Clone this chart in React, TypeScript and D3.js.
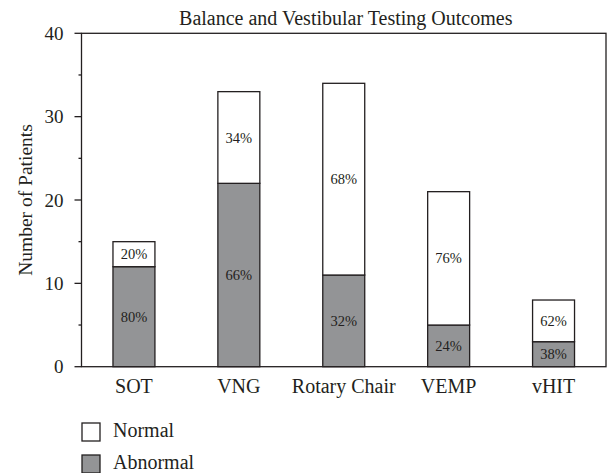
import React from 'react';
import * as d3 from 'd3';

const categories = ['SOT', 'VNG', 'Rotary Chair', 'VEMP', 'vHIT'];
const abnormal = [12, 22, 11, 5, 3];
const normal = [3, 11, 23, 16, 5];
const abnormalPct = ['80%', '66%', '32%', '24%', '38%'];
const normalPct = ['20%', '34%', '68%', '76%', '62%'];
const yTicks = [0, 10, 20, 30, 40];
const yMinorTicks = [5, 15, 25, 35];

const W = 611;
const H = 473;
const left = 81.5;
const right = 606;
const top = 33.3;
const bottom = 366.7;
const font = "'Liberation Serif', 'Times New Roman', serif";
const grey = '#939496';
const ink = '#231f20';

export default function App() {
  const x = d3.scaleBand<string>().domain(categories).range([left, right]).paddingInner(0.6).paddingOuter(0.3);
  const y = d3.scaleLinear().domain([0, 40]).range([bottom, top]);
  const bw = x.bandwidth();

  return (
    <svg width={W} height={H} style={{ position: 'absolute', left: 0, top: 0 }} fontFamily={font}>
      <text x={(left + right) / 2 + 2} y={25} textAnchor="middle" fontSize={20} fill={ink}>
        Balance and Vestibular Testing Outcomes
      </text>

      {/* frame */}
      <rect x={left} y={top} width={right - left} height={bottom - top} fill="none" stroke={ink} strokeWidth={1.3} />

      {/* y axis ticks */}
      {yTicks.map(t => (
        <g key={t}>
          <line x1={left - 7} x2={left} y1={y(t)} y2={y(t)} stroke={ink} strokeWidth={1.3} />
          <text x={left - 18} y={y(t)} dy="0.35em" textAnchor="end" fontSize={19} fill={ink}>{t}</text>
        </g>
      ))}
      {yMinorTicks.map(t => (
        <line key={t} x1={left - 3} x2={left} y1={y(t)} y2={y(t)} stroke={ink} strokeWidth={1.3} />
      ))}
      <text transform={`translate(32,${(top + bottom) / 2 + 0}) rotate(-90)`} textAnchor="middle" fontSize={19.5} fill={ink}>
        Number of Patients
      </text>

      {/* bars */}
      {categories.map((c, i) => {
        const x0 = x(c)!;
        const yA = y(abnormal[i]);
        const yT = y(abnormal[i] + normal[i]);
        return (
          <g key={c}>
            <rect x={x0} y={yA} width={bw} height={bottom - yA} fill={grey} stroke={ink} strokeWidth={1.3} />
            <rect x={x0} y={yT} width={bw} height={yA - yT} fill="#fff" stroke={ink} strokeWidth={1.3} />
            <text x={x0 + bw / 2} y={(yA + bottom) / 2} dy="0.35em" textAnchor="middle" fontSize={14.5} fill={ink}>{abnormalPct[i]}</text>
            <text x={x0 + bw / 2} y={(yT + yA) / 2} dy="0.35em" textAnchor="middle" fontSize={14.5} fill={ink}>{normalPct[i]}</text>
            <text x={x0 + bw / 2} y={393} textAnchor="middle" fontSize={20} fill={ink}>{c}</text>
          </g>
        );
      })}

      {/* legend */}
      <rect x={82} y={423} width={18} height={18} fill="#fff" stroke={ink} strokeWidth={1.3} />
      <text x={113} y={437} fontSize={20} fill={ink}>Normal</text>
      <rect x={82} y={455} width={18} height={18} fill={grey} stroke={ink} strokeWidth={1.3} />
      <text x={113} y={469} fontSize={20} fill={ink}>Abnormal</text>
    </svg>
  );
}
